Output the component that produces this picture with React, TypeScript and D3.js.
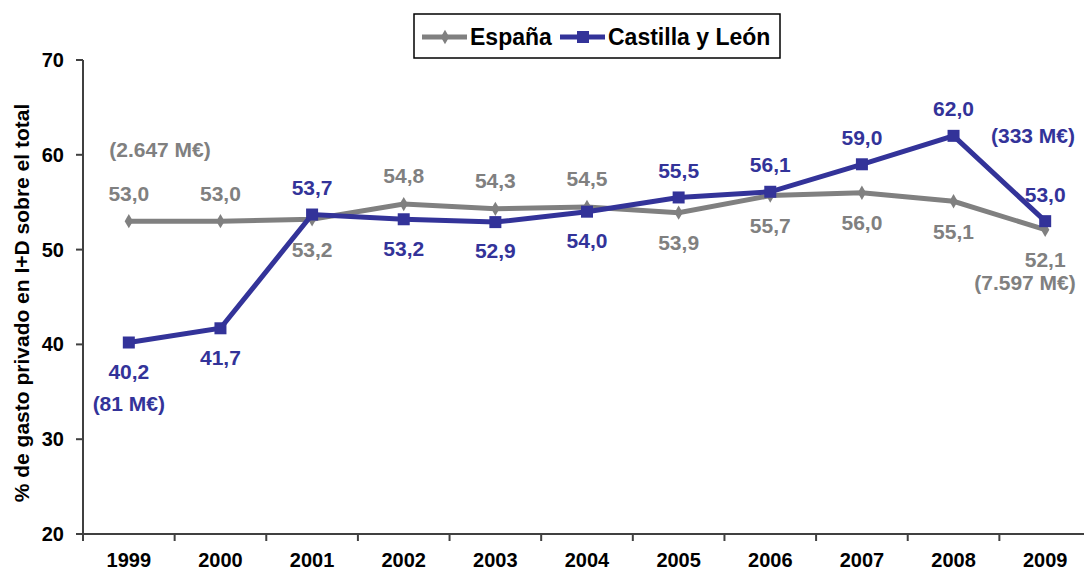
import React from 'react';
import * as d3 from 'd3';

const years = ['1999', '2000', '2001', '2002', '2003', '2004', '2005', '2006', '2007', '2008', '2009'];
const espana = [53.0, 53.0, 53.2, 54.8, 54.3, 54.5, 53.9, 55.7, 56.0, 55.1, 52.1];
const castilla = [40.2, 41.7, 53.7, 53.2, 52.9, 54.0, 55.5, 56.1, 59.0, 62.0, 53.0];
// label side: 1 = above, -1 = below
const espanaSide = [1, 1, -1, 1, 1, 1, -1, -1, -1, -1, -1];
const castillaSide = [-1, -1, 1, -1, -1, -1, 1, 1, 1, 1, 1];
const yTicks = [20, 30, 40, 50, 60, 70];

const GREY = '#808080';
const BLUE = '#333399';
const AXIS = '#404040';
const FONT = '"Liberation Sans", Arial, sans-serif';

const fmt = (v: number) => v.toFixed(1).replace('.', ',');

export default function App() {
    const width = 1084;
    const height = 575;

    const xScale = d3.scaleBand().domain(years).range([83, 1091]);
    const yScale = d3.scaleLinear().domain([20, 70]).range([534, 60]);
    const cx = (y: string) => (xScale(y) as number) + xScale.bandwidth() / 2;

    const line = d3.line<number>()
        .x((_, i) => cx(years[i]))
        .y(d => yScale(d));

    const bounds = [...years.map(y => xScale(y) as number), 1091];

    return (
        <svg
            width={width}
            height={height}
            style={{ position: 'absolute', left: 0, top: 0, background: '#fff' }}
            fontFamily={FONT}
            fontWeight="bold"
        >
            {/* Y axis */}
            <line x1={83} x2={83} y1={yScale(70)} y2={yScale(20)} stroke={AXIS} strokeWidth={2} />
            {yTicks.map(t => (
                <g key={t}>
                    <line x1={76} x2={83} y1={yScale(t)} y2={yScale(t)} stroke={AXIS} strokeWidth={2} />
                    <text x={64} y={yScale(t)} dy="0.35em" textAnchor="end" fontSize={20} fill="#000">{t}</text>
                </g>
            ))}
            <text
                transform={`translate(29, ${(yScale(70) + yScale(20)) / 2 + 6}) rotate(-90)`}
                textAnchor="middle"
                fontSize={21}
                fill="#000"
            >% de gasto privado en I+D sobre el total</text>

            {/* X axis */}
            <line x1={76} x2={1091} y1={yScale(20)} y2={yScale(20)} stroke={AXIS} strokeWidth={2} />
            {bounds.map((b, i) => (
                <line key={i} x1={b} x2={b} y1={yScale(20)} y2={yScale(20) + 7} stroke={AXIS} strokeWidth={2} />
            ))}
            {years.map(y => (
                <text key={y} x={cx(y)} y={560} dy="0.35em" textAnchor="middle" fontSize={20} fill="#000">{y}</text>
            ))}

            {/* España */}
            <path d={line(espana) || ''} fill="none" stroke={GREY} strokeWidth={5} />
            {espana.map((v, i) => (
                <path key={i} d={d3.symbol(d3.symbolDiamond, 60)() || ''}
                    transform={`translate(${cx(years[i])}, ${yScale(v)})`} fill={GREY} />
            ))}

            {/* Castilla y León */}
            <path d={line(castilla) || ''} fill="none" stroke={BLUE} strokeWidth={5} />
            {castilla.map((v, i) => (
                <rect key={i} x={cx(years[i]) - 6} y={yScale(v) - 6} width={12} height={12} fill={BLUE} />
            ))}

            {/* Value labels */}
            {espana.map((v, i) => (
                <text key={'e' + i} x={cx(years[i])} y={yScale(v) + (espanaSide[i] > 0 ? -28 : 30)} dy="0.35em"
                    textAnchor="middle" fontSize={21} fill={GREY}>{fmt(v)}</text>
            ))}
            {castilla.map((v, i) => (
                <text key={'c' + i} x={cx(years[i])} y={yScale(v) + (castillaSide[i] > 0 ? -27 : 29)} dy="0.35em"
                    textAnchor="middle" fontSize={21} fill={BLUE}>{fmt(v)}</text>
            ))}

            {/* Annotations */}
            <text x={160} y={150} dy="0.35em" textAnchor="middle" fontSize={21} fill={GREY}>(2.647 M€)</text>
            <text x={cx('1999')} y={404} dy="0.35em" textAnchor="middle" fontSize={21} fill={BLUE}>(81 M€)</text>
            <text x={1033} y={136} dy="0.35em" textAnchor="middle" fontSize={21} fill={BLUE}>(333 M€)</text>
            <text x={1025} y={283} dy="0.35em" textAnchor="middle" fontSize={21} fill={GREY}>(7.597 M€)</text>

            {/* Legend */}
            <rect x={414} y={14} width={366} height={44} fill="#fff" stroke="#000" strokeWidth={1.5} />
            <line x1={422} x2={467} y1={37} y2={37} stroke={GREY} strokeWidth={5} />
            <path d={d3.symbol(d3.symbolDiamond, 60)() || ''} transform="translate(445, 37)" fill={GREY} />
            <text x={470} y={37} dy="0.35em" fontSize={23} fill="#000">España</text>
            <line x1={560} x2={605} y1={37} y2={37} stroke={BLUE} strokeWidth={5} />
            <rect x={577} y={31} width={12} height={12} fill={BLUE} />
            <text x={608} y={37} dy="0.35em" fontSize={23} fill="#000">Castilla y León</text>
        </svg>
    );
}
